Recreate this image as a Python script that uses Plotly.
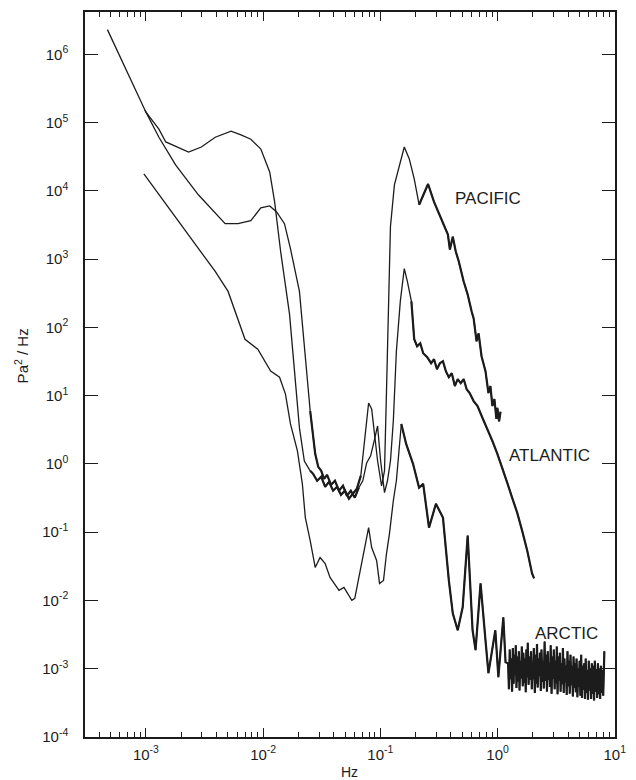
import numpy as np
import plotly.graph_objects as go

# ---------------- data ----------------
pacific_f = [4.69e-4, 6.8e-4, 1.0e-3, 1.29e-3, 1.476e-3, 2.31e-3, 2.97e-3, 3.9e-3, 4.38e-3, 5.32e-3,
             6.47e-3, 7.85e-3, 9.55e-3, 0.01137, 0.01253, 0.0141, 0.0168, 0.01885, 0.0204, 0.02246,
             0.0252, 0.0267, 0.0289, 0.0313, 0.0338, 0.0365, 0.0395, 0.0427, 0.0461, 0.0499,
             0.0539, 0.0582, 0.063, 0.0681, 0.0736, 0.0794, 0.0843, 0.0894, 0.0947, 0.1024,
             0.1085, 0.1128, 0.1173, 0.1219, 0.1318, 0.1452, 0.16, 0.1765, 0.1945, 0.2143,
             0.2317, 0.2553, 0.287, 0.316, 0.342, 0.377, 0.392, 0.415, 0.44, 0.467,
             0.514, 0.556, 0.601, 0.625, 0.662, 0.689, 0.73, 0.759, 0.789, 0.836,
             0.869, 0.904, 0.94, 0.977, 0.996, 1.03, 1.06]
pacific_p = [2.3e6, 6.0e5, 1.42e5, 8.0e4, 5.2e4, 3.7e4, 4.39e4, 6.1e4, 6.6e4, 7.5e4,
             6.6e4, 5.7e4, 4.1e4, 1.89e4, 6.9e3, 1.29e3, 155, 16.3, 3.36, 1.1,
             0.79, 0.714, 0.565, 0.646, 0.461, 0.546, 0.404, 0.461, 0.352, 0.404,
             0.308, 0.365, 0.431, 0.668, 2.17, 7.78, 6.36, 2.84, 1.11, 0.477,
             0.79, 11.6, 336, 2980, 1.22e4, 2.4e4, 4.39e4, 2.93e4, 1.5e4, 6.25e3,
             8.75e3, 1.26e4, 6.9e3, 4.6e3, 3.3e3, 2.28e3, 1.38e3, 2.13e3, 1.29e3, 920,
             470, 303, 171, 135, 62.5, 81.7, 37.8, 29.8, 22.8, 10.9,
             13.8, 7.03, 8.9, 4.54, 6.6, 4.2, 5.8]

atlantic_f = [9.8e-4, 1.29e-3, 1.79e-3, 2.8e-3, 4.74e-3, 6.1e-3, 7.85e-3, 9.55e-3, 0.01137, 0.01303,
              0.0152, 0.0171, 0.0204, 0.0229, 0.0252, 0.0278, 0.0295, 0.0313, 0.0331, 0.0351,
              0.038, 0.041, 0.0444, 0.048, 0.0518, 0.056, 0.0605, 0.0655, 0.0708, 0.0764,
              0.0826, 0.0894, 0.0947, 0.1005, 0.1085, 0.115, 0.122, 0.129, 0.137, 0.148,
              0.16, 0.17, 0.184, 0.1945, 0.206, 0.219, 0.232, 0.251, 0.271, 0.287,
              0.304, 0.322, 0.342, 0.362, 0.384, 0.407, 0.432, 0.457, 0.485, 0.514,
              0.545, 0.578, 0.625, 0.675, 0.744, 0.82, 0.904, 0.996, 1.1, 1.21,
              1.33, 1.47, 1.62, 1.79, 1.97, 2.05]
atlantic_p = [1.52e5, 6.1e4, 2.4e4, 8.75e3, 3.3e3, 3.3e3, 3.65e3, 5.65e3, 6.0e3, 4.9e3,
              3.3e3, 1.42e3, 336, 31.9, 5.94, 1.4, 0.904, 0.79, 0.604, 0.69,
              0.493, 0.565, 0.404, 0.477, 0.341, 0.404, 0.319, 0.447, 0.565, 1.03,
              1.31, 2.32, 3.59, 1.11, 0.378, 0.565, 1.11, 4.25, 44.7, 240,
              727, 470, 240, 66.8, 52.8, 58.4, 41.7, 36.5, 29.8, 34.1,
              24.4, 29.8, 31.9, 22.8, 18.6, 21.3, 13.8, 17.4, 15.2, 17.4,
              12.4, 10.9, 8.3, 7.03, 4.7, 3.24, 2.17, 1.4, 0.875, 0.528,
              0.319, 0.193, 0.105, 0.0537, 0.0248, 0.021]

arctic_f = [9.6e-4, 1.66e-3, 3.21e-3, 3.9e-3, 5.02e-3, 6.1e-3, 7.0e-3, 9.0e-3, 0.01032, 0.01159,
            0.0138, 0.0155, 0.0171, 0.0196, 0.0216, 0.0229, 0.0252, 0.0278, 0.0306, 0.0338,
            0.0372, 0.0444, 0.0489, 0.0571, 0.0605, 0.0693, 0.0764, 0.0794, 0.0843, 0.0929,
            0.0984, 0.1064, 0.1128, 0.1196, 0.129, 0.137, 0.151, 0.166, 0.19, 0.214,
            0.232, 0.26, 0.298, 0.342, 0.384, 0.415, 0.457, 0.504, 0.556, 0.612,
            0.649, 0.716, 0.789, 0.836, 0.957, 1.016, 1.12, 1.17,
            1.23, 1.25, 1.27, 1.29, 1.31, 1.33, 1.35, 1.37, 1.39, 1.41,
            1.43, 1.45, 1.47, 1.50, 1.52, 1.54, 1.56, 1.59, 1.61, 1.64,
            1.66, 1.69, 1.71, 1.74, 1.76, 1.79, 1.81, 1.84, 1.87, 1.90,
            1.93, 1.96, 1.98, 2.01, 2.04, 2.08, 2.11, 2.14, 2.17, 2.20,
            2.24, 2.27, 2.30, 2.34, 2.37, 2.41, 2.45, 2.48, 2.52, 2.56,
            2.60, 2.64, 2.68, 2.72, 2.76, 2.80, 2.84, 2.89, 2.93, 2.98,
            3.02, 3.07, 3.11, 3.16, 3.20, 3.25, 3.30, 3.35, 3.40, 3.45,
            3.50, 3.56, 3.61, 3.67, 3.72, 3.78, 3.83, 3.89, 3.95, 4.01,
            4.07, 4.13, 4.19, 4.26, 4.32, 4.39, 4.45, 4.52, 4.58, 4.65,
            4.72, 4.80, 4.87, 4.94, 5.01, 5.09, 5.17, 5.25, 5.32, 5.40,
            5.49, 5.57, 5.65, 5.74, 5.82, 5.91, 6.00, 6.09, 6.18, 6.28,
            6.37, 6.47, 6.56, 6.66, 6.76, 6.87, 6.97, 7.08, 7.18, 7.29,
            7.40, 7.51, 7.62, 7.74, 7.85, 7.97, 8.15]
arctic_p = [1.77e4, 4.93e3, 1.02e3, 658, 336, 135, 66.8, 47.7, 31.9, 22.8,
            18.6, 10.5, 3.84, 1.55, 0.51, 0.163, 0.075, 0.0303, 0.0425, 0.0347,
            0.0217, 0.014, 0.0155, 0.01, 0.0107, 0.0347, 0.083, 0.116, 0.0594, 0.0384,
            0.0177, 0.0196, 0.0485, 0.095, 0.288, 0.565, 3.84, 1.96, 1.0, 0.447,
            0.51, 0.116, 0.26, 0.163, 0.0196, 0.00646, 0.00365, 0.0079, 0.089, 0.00365,
            0.00186, 0.0177, 0.0026, 8.6e-4, 0.00365, 7.5e-4, 0.00565, 1.24e-3,
            1.2e-3, 5e-4, 1.9e-3, 7e-4, 1.4e-3, 4.6e-4, 2.0e-3, 6e-4, 1.6e-3, 8e-4,
            2.2e-3, 5.2e-4, 1.5e-3, 6.5e-4, 1.8e-3, 4.8e-4, 1.3e-3, 7.2e-4, 2.1e-3, 5.5e-4,
            1.7e-3, 6.2e-4, 1.4e-3, 4.5e-4, 1.9e-3, 7.5e-4, 2.4e-3, 5.8e-4, 1.5e-3, 6.8e-4,
            1.8e-3, 5e-4, 1.2e-3, 7e-4, 2.0e-3, 4.4e-4, 1.6e-3, 6e-4, 2.3e-3, 5.3e-4,
            1.4e-3, 7.8e-4, 1.7e-3, 4.7e-4, 1.9e-3, 6.4e-4, 1.3e-3, 5.1e-4, 2.5e-3, 6.6e-4,
            1.6e-3, 4.6e-4, 1.8e-3, 6.9e-4, 1.2e-3, 5.4e-4, 2.2e-3, 4.3e-4, 1.5e-3, 7.1e-4,
            1.9e-3, 5e-4, 1.3e-3, 6.1e-4, 2.1e-3, 4.2e-4, 1.5e-3, 6.7e-4, 1.7e-3, 4.6e-4,
            1.2e-3, 5.9e-4, 2.0e-3, 4.4e-4, 1.4e-3, 6.3e-4, 1.1e-3, 4.1e-4, 1.8e-3, 5.5e-4,
            1.3e-3, 4.3e-4, 1.6e-3, 5.7e-4, 1.1e-3, 3.9e-4, 1.5e-3, 5.2e-4, 1.2e-3, 4.5e-4,
            1.4e-3, 3.8e-4, 1.0e-3, 5.4e-4, 1.3e-3, 4.0e-4, 1.6e-3, 3.7e-4, 1.1e-3, 4.9e-4,
            1.2e-3, 3.6e-4, 1.4e-3, 4.4e-4, 9.5e-4, 3.5e-4, 1.3e-3, 4.8e-4, 1.0e-3, 3.6e-4,
            1.2e-3, 4.3e-4, 1.1e-3, 3.4e-4, 1.3e-3, 4.6e-4, 9.8e-4, 3.7e-4, 1.2e-3, 4.2e-4,
            1.0e-3, 3.6e-4, 1.1e-3, 4.4e-4, 9.5e-4, 4.0e-4, 1.8e-3]

# frequency bands where the recorded traces are noisy (drawn heavier)
pacific_noisy = [(0.025, 0.07), (0.2, 1.1)]
atlantic_noisy = [(0.025, 0.07), (0.18, 2.1)]
arctic_noisy = [(0.14, 8.2)]

y_tickvals = [1e-4, 1e-3, 1e-2, 1e-1, 1e0, 1e1, 1e2, 1e3, 1e4, 1e5, 1e6]
y_ticktext = ["10<sup>-4</sup>", "10<sup>-3</sup>", "10<sup>-2</sup>", "10<sup>-1</sup>", "10<sup>0</sup>",
              "10<sup>1</sup>", "10<sup>2</sup>", "10<sup>3</sup>", "10<sup>4</sup>", "10<sup>5</sup>",
              "10<sup>6</sup>"]
x_tickvals = [1e-3, 1e-2, 1e-1, 1e0, 1e1]
x_ticktext = ["10<sup>-3</sup>", "10<sup>-2</sup>", "10<sup>-1</sup>", "10<sup>0</sup>", "10<sup>1</sup>"]
x_minor_ticks = [4e-4, 5e-4, 6e-4, 7e-4, 8e-4, 9e-4,
                 2e-3, 3e-3, 4e-3, 5e-3, 6e-3, 7e-3, 8e-3, 9e-3,
                 2e-2, 3e-2, 4e-2, 5e-2, 6e-2, 7e-2, 8e-2, 9e-2,
                 0.2, 0.3, 0.4, 0.5, 0.6, 0.7, 0.8, 0.9,
                 2, 3, 4, 5, 6, 7, 8, 9]

labels = ["PACIFIC", "ATLANTIC", "ARCTIC"]
label_pos = [(0.415, 7.6e3), (1.21, 1.31), (2.0, 3.3e-3)]

# ---------------- figure ----------------
INK = "#1c1c1c"
FONT = "Liberation Sans, Arial, sans-serif"

fig = go.Figure()
for f, p, name, bands in [(pacific_f, pacific_p, "Pacific", pacific_noisy),
                          (atlantic_f, atlantic_p, "Atlantic", atlantic_noisy),
                          (arctic_f, arctic_p, "Arctic", arctic_noisy)]:
    fig.add_trace(go.Scatter(x=f, y=p, mode="lines", name=name,
                             line=dict(color=INK, width=1.3), showlegend=False))
    for lo, hi in bands:
        sel = [(a, b) for a, b in zip(f, p) if lo <= a <= hi]
        fig.add_trace(go.Scatter(x=[a for a, _ in sel], y=[b for _, b in sel], mode="lines",
                                 name=name, line=dict(color=INK, width=2.2), showlegend=False))

for text, (lx, ly) in zip(labels, label_pos):
    fig.add_annotation(x=np.log10(lx), y=np.log10(ly), text=text, showarrow=False,
                       xanchor="left", yanchor="middle",
                       font=dict(family=FONT, size=17, color=INK))

# axis titles as annotations for exact placement
fig.add_annotation(xref="paper", yref="paper", x=0, y=0.525, xshift=-64,
                   text="Pa<sup>2</sup> / Hz", textangle=-90, showarrow=False,
                   xanchor="center", yanchor="middle",
                   font=dict(family=FONT, size=15, color=INK))
fig.add_annotation(xref="paper", yref="paper", x=0.499, y=0, yshift=-35,
                   text="Hz", showarrow=False, xanchor="center", yanchor="middle",
                   font=dict(family=FONT, size=14, color=INK))

fig.update_xaxes(type="log", range=[-3.52, 1.002],
                 showline=True, linecolor=INK, linewidth=1.5, mirror="ticks",
                 ticks="inside", ticklen=9, tickwidth=1.2, tickcolor=INK,
                 tickvals=x_tickvals, ticktext=x_ticktext,
                 minor=dict(ticks="inside", ticklen=5, tickwidth=1, tickcolor=INK,
                            tickvals=x_minor_ticks),
                 showgrid=False, zeroline=False,
                 tickfont=dict(family=FONT, size=15, color=INK),
                 ticklabelstandoff=3)
fig.update_yaxes(type="log", range=[-4.002, 6.62],
                 showline=True, linecolor=INK, linewidth=1.5, mirror="ticks",
                 ticks="inside", ticklen=13, tickwidth=1.2, tickcolor=INK,
                 tickvals=y_tickvals, ticktext=y_ticktext,
                 showgrid=False, zeroline=False,
                 tickfont=dict(family=FONT, size=15, color=INK),
                 ticklabelstandoff=12)

fig.update_layout(width=636, height=780, margin=dict(l=85, r=16, t=10, b=43),
                  paper_bgcolor="white", plot_bgcolor="white")

fig.write_html("out.html", config={"displayModeBar": False},
               post_script="document.body.style.margin='0';document.body.style.overflow='hidden';")
